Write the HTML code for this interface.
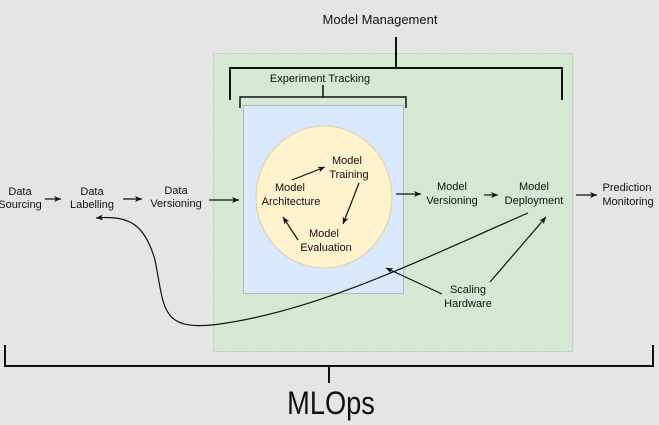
<!DOCTYPE html>
<html><head><meta charset="utf-8"><style>
html,body{margin:0;padding:0;background:#e5e5e5;}
svg{display:block;}
text{font-family:"Liberation Sans",sans-serif;font-size:11px;fill:#111;text-anchor:middle;}
</style></head><body>
<svg width="659" height="425" viewBox="0 0 659 425" xmlns="http://www.w3.org/2000/svg">
<defs><marker id="a" markerWidth="8" markerHeight="8" refX="7" refY="4" orient="auto" markerUnits="userSpaceOnUse"><path d="M0,1 L7,4 L0,7 L2,4 Z" fill="#111"/></marker></defs>
<rect x="0" y="0" width="659" height="425" fill="#e5e5e5"/>
<rect x="213.5" y="53.5" width="359" height="298" fill="#d5e8d4" stroke="#b5c9b4" stroke-dasharray="2,1"/>
<rect x="243.5" y="105.5" width="160" height="188" fill="#dae8fc" stroke="#888" stroke-dasharray="1,1"/>
<ellipse cx="324" cy="197" rx="68" ry="71" fill="#fff2cc" stroke="#d6c99a" stroke-width="0.8"/>
<text x="380" y="24" style="font-size:13px">Model Management</text>
<path d="M396,37 V68 M230,100 V68 H562 V100" fill="none" stroke="#111" stroke-width="2"/>
<text x="320" y="82">Experiment Tracking</text>
<path d="M323,85 V97 M240,108 V97 H406 V108" fill="none" stroke="#111" stroke-width="1.5"/>
<path d="M5,345 V366 H653 V345 M329,366 V383" fill="none" stroke="#111" stroke-width="2"/>
<text x="0" y="0" transform="translate(331,414) scale(0.85,1)" style="font-size:32px">MLOps</text>
<text x="20" y="195">Data</text><text x="20" y="208">Sourcing</text>
<text x="92" y="195">Data</text><text x="92" y="208">Labelling</text>
<text x="176" y="194">Data</text><text x="176" y="207">Versioning</text>
<text x="290" y="191">Model</text><text x="291" y="205">Architecture</text>
<text x="347" y="164">Model</text><text x="349" y="178">Training</text>
<text x="324" y="237">Model</text><text x="326" y="251">Evaluation</text>
<text x="452" y="190">Model</text><text x="452" y="204">Versioning</text>
<text x="534" y="190">Model</text><text x="534" y="204">Deployment</text>
<text x="627" y="191">Prediction</text><text x="628" y="205">Monitoring</text>
<text x="468" y="293">Scaling</text><text x="468" y="307">Hardware</text>
<g stroke="#111" stroke-width="1.2" fill="none" marker-end="url(#a)">
<path d="M45,199 H61"/>
<path d="M123,199 H142"/>
<path d="M209,200 H239"/>
<path d="M292,180 L325,167"/>
<path d="M359,183 L343,224"/>
<path d="M298,240 L283,217"/>
<path d="M396,194 H421"/>
<path d="M484,195 H498"/>
<path d="M576,195 H597"/>
<path d="M490,282 L546,217"/>
<path d="M442,294 L386,268"/>
<path d="M528,213 C420,260 320,310 220,324 C160,332 165,310 155,260 C145,225 130,215 96,218"/>
</g>
</svg>
</body></html>
